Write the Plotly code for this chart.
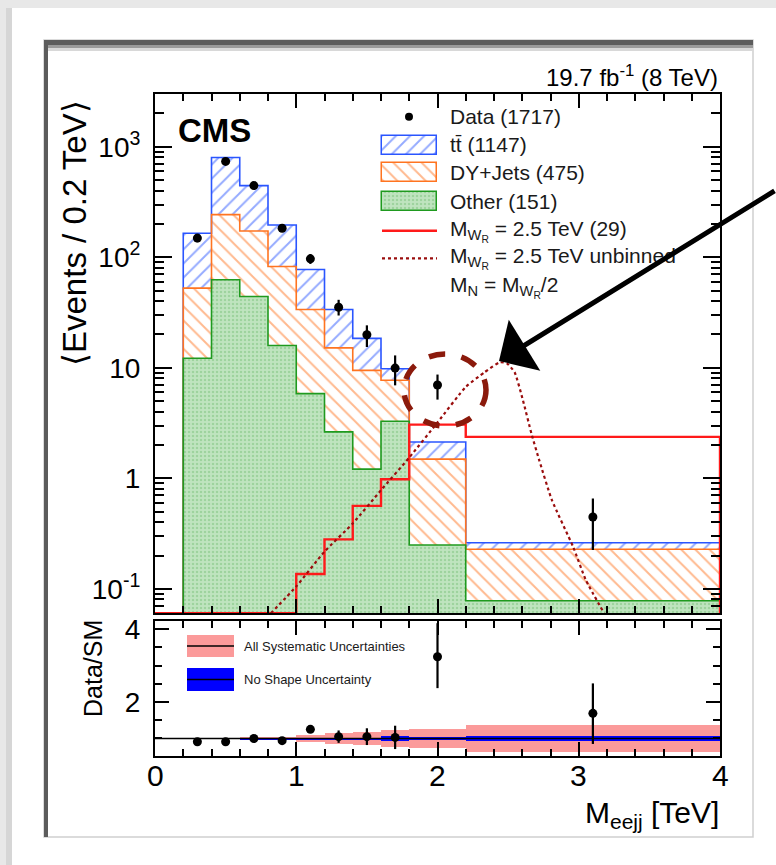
import math
import plotly.graph_objects as go

# ---------------- data ----------------
bin_edges = [0.2, 0.4, 0.6, 0.8, 1.0, 1.2, 1.4, 1.6, 1.8, 2.2, 4.0]
ttbar = [112.5, 557, 272, 113.6, 43.8, 18.5, 9.0, 2.1, 0.64, 0.033]
dyjets = [40.3, 180.5, 128.8, 66.5, 27.8, 12.5, 8.25, 4.42, 1.24, 0.150]
other = [12.2, 62.5, 44.2, 15.9, 5.83, 2.63, 1.21, 3.28, 0.249, 0.078]

sig_edges = [0.0, 0.2, 0.4, 0.6, 0.8, 1.0, 1.2, 1.4, 1.6, 1.8, 2.2, 4.0]
sig_binned = [0, 0, 0, 0, 0, 0.136, 0.28, 0.563, 0.98, 3.06, 2.37]

sig_unb_x = [0.82, 1.0, 1.2, 1.4, 1.6, 1.8, 2.0, 2.2, 2.333, 2.44, 2.49, 2.546, 2.605, 2.665, 2.72, 2.81, 2.96, 3.05, 3.18]
sig_unb_y = [0.06, 0.105, 0.217, 0.39, 0.78, 1.54, 3.2, 6.7, 9.1, 11.2, 11.0, 9.1, 5.07, 2.54, 1.46, 0.634, 0.24, 0.12, 0.06]

data_x = [0.3, 0.5, 0.7, 0.9, 1.1, 1.3, 1.5, 1.7, 2.0, 3.1]
data_y = [149, 736, 445, 183, 96.7, 35.3, 19.9, 9.93, 6.98, 0.446]
data_eu = [12.7, 27, 21, 14, 10.5, 5.9, 4.3, 3.0, 1.7, 0.21]
data_ed = [12.2, 27, 21, 13.5, 9.7, 5.6, 4.5, 3.0, 1.83, 0.222]

ratio_y = [0.91, 0.91, 1.0, 0.94, 1.25, 1.05, 1.05, 1.03, 3.24, 1.69]
ratio_eu = [0.03, 0.03, 0.05, 0.07, 0.1, 0.17, 0.23, 0.32, 0.92, 0.82]
ratio_ed = [0.03, 0.03, 0.05, 0.07, 0.1, 0.17, 0.23, 0.32, 0.86, 0.84]

syst_edges = [0.6, 0.8, 1.0, 1.2, 1.4, 1.6, 1.8, 2.2, 4.0]
syst_all = [0.036, 0.05, 0.09, 0.14, 0.17, 0.22, 0.27, 0.37]
syst_noshape = [0.015, 0.015, 0.015, 0.015, 0.015, 0.07, 0.05, 0.08]

x_ticks = [0, 1, 2, 3, 4]
x_ticktext = ["0", "1", "2", "3", "4"]
y_ticks = [0.1, 1, 10, 100, 1000]
y_ticktext = ["10<sup>-1</sup>", "1", "10", "10<sup>2</sup>", "10<sup>3</sup>"]
ratio_ticks = [2, 4]

legend_labels = [
    "Data (1717)",
    "tt\u0304 (1147)",
    "DY+Jets (475)",
    "Other (151)",
    "M<sub>W<sub>R</sub></sub> = 2.5 TeV (29)",
    "M<sub>W<sub>R</sub></sub> = 2.5 TeV unbinned",
    "M<sub>N</sub> = M<sub>W<sub>R</sub></sub>/2",
]
ratio_legend_labels = ["All Systematic Uncertainties", "No Shape Uncertainty"]

# ---------------- geometry / style ----------------
W, H = 776, 865
ML, MR, MT, MB = 155, 56, 94, 109
PW, PH = W - ML - MR, H - MT - MB
YMIN, YMAX = 0.06, 3000.0
FONT = "Liberation Sans, Arial, sans-serif"

C_TT = "#2a55ff"
C_DY = "#ff7420"
C_OT = "#1f9a1f"
C_OT_FILL = "#bfe4bf"
C_SIG = "#ff1a1a"
C_UNB = "#9a0d0d"
C_PINK = "#fb9a9a"


def px(x):
    return (x - ML) / PW


def py(y):
    return (H - MB - y) / PH


def centers(e):
    return [(a + b) / 2 for a, b in zip(e[:-1], e[1:])]


def widths(e):
    return [b - a for a, b in zip(e[:-1], e[1:])]


def step(e, vals, floor):
    v = [max(a, floor) for a in vals]
    xs = [e[0], e[0]] + list(e[1:]) + [e[-1]]
    ys = [floor, v[0]] + v[1:] + [v[-1], floor]
    return xs, ys


fig = go.Figure()

bc = centers(bin_edges)
bw = widths(bin_edges)
base_low = [1e-4] * len(other)
dy_base = other
tt_base = [o + d for o, d in zip(other, dyjets)]
dy_top = tt_base
tot_top = [t + b for t, b in zip(ttbar, tt_base)]

pat_tt = dict(shape="/", fgcolor=C_TT, bgcolor="white", size=10, solidity=0.2, fillmode="overlay")
pat_dy = dict(shape="\\", fgcolor=C_DY, bgcolor="white", size=10, solidity=0.2, fillmode="overlay")
pat_ot = dict(shape=".", fgcolor="#7cc27c", bgcolor=C_OT_FILL, size=4, solidity=0.3, fillmode="overlay")

# stacked histograms (fills)
fig.add_trace(go.Bar(x=bc, y=other, base=base_low, width=bw, xaxis="x", yaxis="y",
                     marker=dict(color=C_OT_FILL, line=dict(width=0), pattern=pat_ot), showlegend=False))
fig.add_trace(go.Bar(x=bc, y=dyjets, base=dy_base, width=bw, xaxis="x", yaxis="y",
                     marker=dict(color="white", line=dict(width=0), pattern=pat_dy), showlegend=False))
fig.add_trace(go.Bar(x=bc, y=ttbar, base=tt_base, width=bw, xaxis="x", yaxis="y",
                     marker=dict(color="white", line=dict(width=0), pattern=pat_tt), showlegend=False))

# outlines
for vals, col in [(tot_top, C_TT), (dy_top, C_DY), (other, C_OT)]:
    xs, ys = step(bin_edges, vals, YMIN)
    fig.add_trace(go.Scatter(x=xs, y=ys, mode="lines", line=dict(color=col, width=1.6, shape="hv"),
                             xaxis="x", yaxis="y", showlegend=False, hoverinfo="skip"))

# signal binned
xs, ys = step(sig_edges, sig_binned, YMIN)
fig.add_trace(go.Scatter(x=xs, y=ys, mode="lines", line=dict(color=C_SIG, width=2.4, shape="hv"),
                         xaxis="x", yaxis="y", showlegend=False, cliponaxis=False))
# signal unbinned
fig.add_trace(go.Scatter(x=sig_unb_x, y=sig_unb_y, mode="lines",
                         line=dict(color=C_UNB, width=2.2, dash="dot", shape="spline", smoothing=0.5),
                         xaxis="x", yaxis="y", showlegend=False))
# data
fig.add_trace(go.Scatter(x=data_x, y=data_y, mode="markers", xaxis="x", yaxis="y",
                         marker=dict(color="black", size=9),
                         error_y=dict(type="data", symmetric=False, array=data_eu, arrayminus=data_ed,
                                      thickness=2.2, width=0, color="black"),
                         showlegend=False))

# ratio panel
sc = centers(syst_edges)
sw = widths(syst_edges)
fig.add_trace(go.Bar(x=sc, y=[2 * e for e in syst_all], base=[1 - e for e in syst_all], width=sw,
                     xaxis="x2", yaxis="y2", marker=dict(color=C_PINK, line=dict(width=0)), showlegend=False))
fig.add_trace(go.Bar(x=sc, y=[2 * e for e in syst_noshape], base=[1 - e for e in syst_noshape], width=sw,
                     xaxis="x2", yaxis="y2", marker=dict(color="#0000ff", line=dict(width=0)), showlegend=False))
fig.add_trace(go.Scatter(x=[0, 4], y=[1, 1], mode="lines", line=dict(color="black", width=1.3),
                         xaxis="x2", yaxis="y2", showlegend=False))
fig.add_trace(go.Scatter(x=data_x, y=ratio_y, mode="markers", xaxis="x2", yaxis="y2",
                         marker=dict(color="black", size=9),
                         error_y=dict(type="data", symmetric=False, array=ratio_eu, arrayminus=ratio_ed,
                                      thickness=2.2, width=0, color="black"),
                         showlegend=False))

# ---------------- legend (pixel-coordinate overlay axes) ----------------
rows = [116.7, 145.0, 172.7, 201.5, 230.7, 258.3, 286.7]
sx0, sx1 = 382, 437
scx = (sx0 + sx1) / 2
fig.add_trace(go.Scatter(x=[scx - 0.5], y=[rows[0]], mode="markers", marker=dict(color="black", size=8),
                         xaxis="x3", yaxis="y3", showlegend=False))
for r, pat, col, fillc in [(rows[1], pat_tt, C_TT, "white"), (rows[2], pat_dy, C_DY, "white"),
                           (rows[3], pat_ot, C_OT, C_OT_FILL)]:
    fig.add_trace(go.Bar(x=[scx], y=[19], base=[r - 9.5], width=[sx1 - sx0], xaxis="x3", yaxis="y3",
                         marker=dict(color=fillc, line=dict(color=col, width=1.5), pattern=pat), showlegend=False))
fig.add_trace(go.Scatter(x=[sx0, sx1], y=[rows[4], rows[4]], mode="lines", line=dict(color=C_SIG, width=2.4),
                         xaxis="x3", yaxis="y3", showlegend=False))
fig.add_trace(go.Scatter(x=[sx0, sx1], y=[rows[5], rows[5]], mode="lines", line=dict(color=C_UNB, width=2.2, dash="dot"),
                         xaxis="x3", yaxis="y3", showlegend=False))

annotations = []
for r, t in zip(rows, legend_labels):
    annotations.append(dict(x=px(448), y=py(r), xref="paper", yref="paper", text=t, showarrow=False,
                            xanchor="left", yanchor="middle", font=dict(family=FONT, size=21, color="#1a1a1a")))

# ratio legend
shapes = []
for (y0, y1), col in [((635, 657), C_PINK), ((668, 691), "#0000ff")]:
    shapes.append(dict(type="rect", xref="paper", yref="paper", x0=px(187), x1=px(234), y0=py(y0), y1=py(y1),
                       fillcolor=col, line=dict(width=0), layer="above"))
    shapes.append(dict(type="line", xref="paper", yref="paper", x0=px(187), x1=px(234), y0=py((y0 + y1) / 2),
                       y1=py((y0 + y1) / 2), line=dict(color="black", width=1.3), layer="above"))
for yy, t in zip([646, 679.5], ratio_legend_labels):
    annotations.append(dict(x=px(242), y=py(yy), xref="paper", yref="paper", text=t, showarrow=False,
                            xanchor="left", yanchor="middle", font=dict(family=FONT, size=13, color="#1a1a1a")))

# x tick labels of the ratio axis (placed through the x2 scale)
for v, t in zip(x_ticks, x_ticktext):
    annotations.append(dict(x=v, y=py(775), xref="x2", yref="paper", text=t, showarrow=False,
                            xanchor="center", yanchor="middle", font=dict(family=FONT, size=30, color="black")))

# texts
annotations += [
    dict(x=px(176), y=py(130), xref="paper", yref="paper", text="<b>CMS</b>", showarrow=False,
         xanchor="left", yanchor="middle", font=dict(family=FONT, size=33, color="black")),
    dict(x=px(720), y=py(76), xref="paper", yref="paper", text="19.7 fb<sup>-1</sup> (8 TeV)", showarrow=False,
         xanchor="right", yanchor="middle", font=dict(family=FONT, size=24, color="black")),
    dict(x=px(75), y=py(233), xref="paper", yref="paper", text="\u27e8Events / 0.2 TeV\u27e9", showarrow=False,
         textangle=-90, xanchor="center", yanchor="middle", font=dict(family=FONT, size=33, color="black")),
    dict(x=px(93), y=py(669), xref="paper", yref="paper", text="Data/SM", showarrow=False,
         textangle=-90, xanchor="center", yanchor="middle", font=dict(family=FONT, size=25, color="black")),
    dict(x=px(721), y=py(814), xref="paper", yref="paper", text="M<sub>eejj</sub> [TeV]", showarrow=False,
         xanchor="right", yanchor="middle", font=dict(family=FONT, size=30, color="black")),
    # arrow
    dict(x=px(499), y=py(361), xref="paper", yref="paper", text="", showarrow=True,
         ax=277, ay=-171, arrowhead=1, arrowsize=2.0, arrowwidth=5, arrowcolor="black"),
]

# dashed circle
shapes.append(dict(type="circle", xref="paper", yref="paper", x0=px(404), x1=px(486), y0=py(426), y1=py(354),
                   line=dict(color="#8b1a0c", width=5.5, dash="dash"), layer="above"))

# frame decorations
frame = [
    dict(type="rect", x0=px(12), x1=px(W + 5), y0=py(8), y1=py(H + 5), fillcolor="white", line=dict(width=0)),
    dict(type="rect", x0=px(6), x1=px(12), y0=py(8), y1=py(H + 5), fillcolor="#d6d6d6", line=dict(width=0)),
    dict(type="rect", x0=px(44), x1=px(753), y0=py(40), y1=py(837), fillcolor="white",
         line=dict(color="#cfcfcf", width=1.5)),
    dict(type="rect", x0=px(44), x1=px(753), y0=py(40), y1=py(45), fillcolor="#5c5c5c", line=dict(width=0)),
    dict(type="rect", x0=px(48), x1=px(753), y0=py(45), y1=py(48), fillcolor="#9a9a9a", line=dict(width=0)),
    dict(type="rect", x0=px(48), x1=px(753), y0=py(48), y1=py(51), fillcolor="#d8d8d8", line=dict(width=0)),
    dict(type="rect", x0=px(44), x1=px(48), y0=py(40), y1=py(837), fillcolor="#5c5c5c", line=dict(width=0)),
]
for f in frame:
    f.update(xref="paper", yref="paper", layer="below")
shapes = frame + shapes

minor_log = [k * 10 ** e for e in range(-2, 4) for k in range(2, 10)]

axis_common = dict(showline=True, linewidth=2, linecolor="black", mirror="allticks", showgrid=False,
                   zeroline=False, ticks="inside", tickwidth=2, tickcolor="black",
                   tickfont=dict(family=FONT, size=28, color="black"))

main_bottom = (H - MB - 613.3) / PH
ratio_top = (H - MB - 621) / PH

fig.update_layout(
    width=W, height=H, margin=dict(l=ML, r=MR, t=MT, b=MB, pad=0),
    paper_bgcolor="#e8e8e8", plot_bgcolor="rgba(0,0,0,0)",
    barmode="overlay", bargap=0, showlegend=False,
    font=dict(family=FONT),
    xaxis=dict(domain=[0, 1], anchor="y", range=[0, 4], tickvals=x_ticks, showticklabels=False, ticklen=14,
               minor=dict(ticks="inside", ticklen=7, tickwidth=1.5, tickcolor="black", tick0=0, dtick=0.2),
               **axis_common),
    yaxis=dict(domain=[main_bottom, 1], anchor="x", type="log", range=[math.log10(YMIN), math.log10(YMAX)],
               tickmode="array", tickvals=y_ticks, ticktext=y_ticktext, ticklen=17, ticklabelstandoff=7,
               minor=dict(ticks="inside", ticklen=9, tickwidth=1.5, tickcolor="black", tickmode="array",
                          tickvals=minor_log),
               **axis_common),
    xaxis2=dict(domain=[0, 1], anchor="y2", range=[0, 4], matches="x", tickvals=x_ticks, ticklen=14,
                showticklabels=False,
                minor=dict(ticks="inside", ticklen=7, tickwidth=1.5, tickcolor="black", tick0=0, dtick=0.2),
                **axis_common),
    yaxis2=dict(domain=[0, ratio_top], anchor="x2", range=[0.52, 4.22], tickvals=ratio_ticks, ticklen=14,
                ticklabelstandoff=7,
                minor=dict(ticks="inside", ticklen=7, tickwidth=1.5, tickcolor="black", tick0=0, dtick=0.5),
                **axis_common),
    xaxis3=dict(domain=[0, 1], anchor="y3", range=[ML, W - MR], visible=False, fixedrange=True),
    yaxis3=dict(domain=[0, 1], anchor="x3", range=[H - MB, MT], visible=False, fixedrange=True),
    shapes=shapes,
    annotations=annotations,
)

fig.write_html("out.html")
